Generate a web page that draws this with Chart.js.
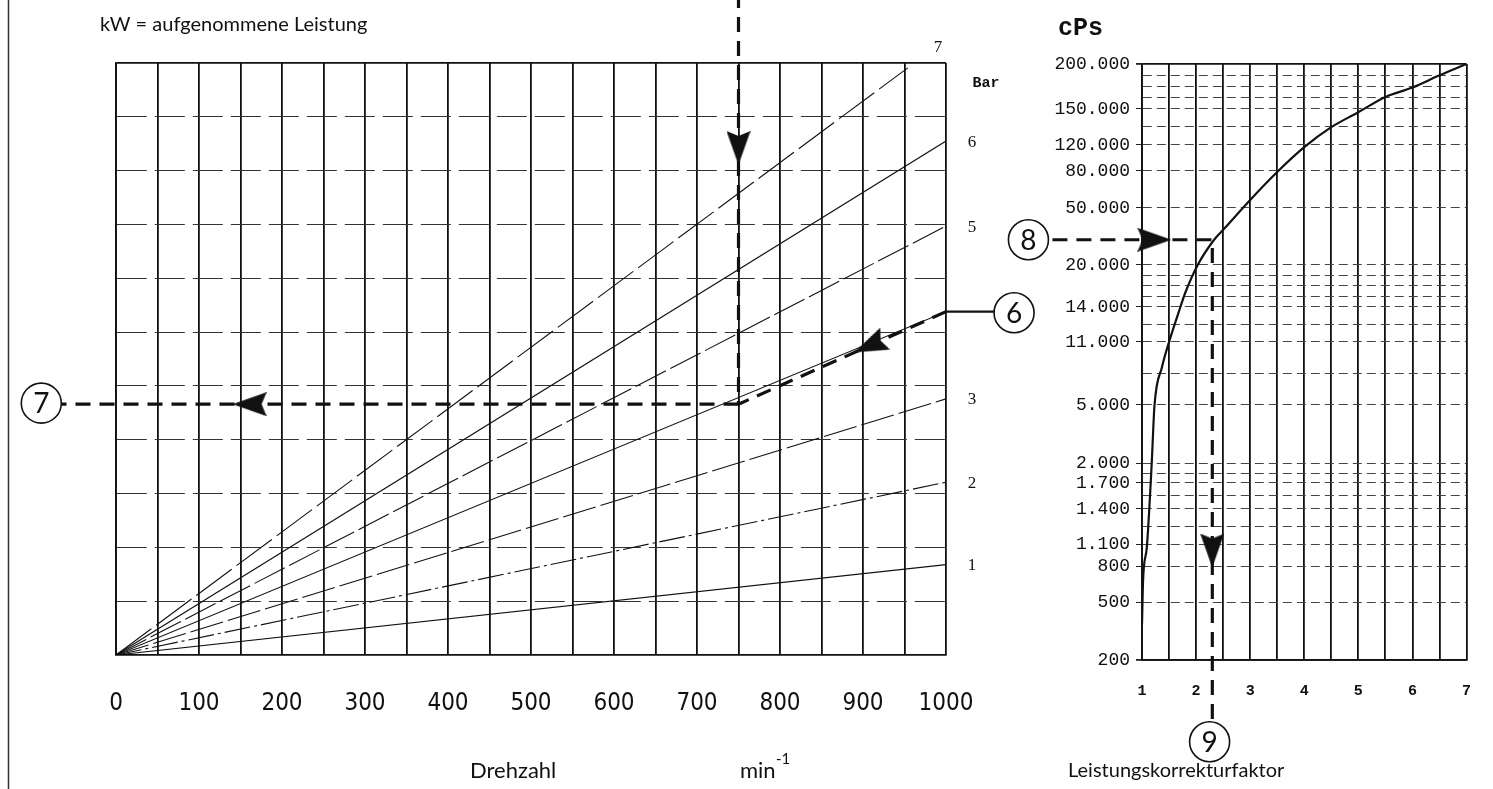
<!DOCTYPE html>
<html><head><meta charset="utf-8">
<script src="https://cdn.jsdelivr.net/npm/chart.js@4/dist/chart.umd.min.js"></script>
<style>
html,body{margin:0;padding:0;background:#fff;}
#wrap{position:relative;width:1493px;height:789px;overflow:hidden;background:#fff}
#c1{position:absolute;left:0;top:0;width:1060px;height:789px}
#c2{position:absolute;left:1000px;top:0;width:493px;height:789px}
</style></head><body>
<div id="wrap"><canvas id="c1" width="1060" height="789"></canvas><canvas id="c2" width="493" height="789"></canvas></div>
<script>
// ---------------- DATA: left nomogram (power vs. speed) ----------------
const rpmTicks = [0,100,200,300,400,500,600,700,800,900,1000];
const barNames = ['1','2','3','4','5','6','7'];
const barEndRpm = [1000,1000,1000,1000,1000,1000,954];
const barEndKw  = [1.68,3.21,4.76,6.38,7.97,9.55,10.91];
// reading path (steps 6 -> 7)
const pathDownRpm = [750, 750];
const pathDownKw  = [12.3, 4.66];
const pathLeftRpm = [750, -88];
const pathLeftKw  = [4.66, 4.66];
const pathSlopeRpm = [1000, 750];
const pathSlopeKw  = [6.38, 4.66];
const pathStubRpm = [1000, 1082];
const pathStubKw  = [6.38, 6.38];
const arrowsLeftRpm = [750, 161, 908];
const arrowsLeftKw  = [9.42, 4.66, 5.75];
const arrowsLeftRot = [180, 270, 246];
const circlesLeftRpm = [1082, -90];
const circlesLeftKw  = [6.36, 4.68];
const circlesLeftTxt = ['6', '7'];

// ---------------- DATA: right nomogram (viscosity vs. correction factor) ----------------
const factorTicks = [1,2,3,4,5,6,7];
const cpsTicks  = [200,500,800,1100,1400,1700,2000,5000,11000,14000,20000,50000,80000,120000,150000,200000];
const cpsLabels = ['200','500','800','1.100','1.400','1.700','2.000','5.000','11.000','14.000','20.000','50.000','80.000','120.000','150.000','200.000'];
const curveFactor = [1.0,1.02,1.09,1.18,1.23,1.37,1.5,1.71,1.80,2.03,2.33,2.53,3.0,3.5,4.0,4.5,5.0,5.5,6.0,6.5,7.0];
const curveCps    = [350,665,1055,2000,4900,8040,11000,14000,15800,20000,29900,36200,55400,79000,116000,134000,147000,162000,172000,186000,200000];
const pathRFactor = [-1.1, 2.3, 2.3];
const pathRCps    = [30000, 30000, 78];
const arrowsRFactor = [1.23, 2.3];
const arrowsRCps    = [30000, 1000];
const arrowsRRot    = [90, 180];
const circlesRFactor = [-1.1, 2.25];
const circlesRCps    = [30000, 55];
const circlesRTxt = ['8', '9'];

// printed (non-uniform) viscosity scale: relative axis position of each labelled value
const cpsTickFrac = [0,0.0973,0.1577,0.1946,0.2534,0.297,0.3305,0.4279,0.5336,0.5923,0.6628,0.7584,0.8205,0.8641,0.9245,1];
const cpsSubdiv   = [1,1,1,2,2,2,1,2,2,4,1,1,1,2,4];

// ---------------- helpers ----------------
const pts = (xs, ys) => xs.map((x, i) => ({x, y: ys[i]}));
function cpsToFrac(v) {
  const L = Math.log10(v);
  const n = cpsTicks.length;
  let i = 0;
  while (i < n - 2 && L > Math.log10(cpsTicks[i + 1])) i++;
  const a = Math.log10(cpsTicks[i]), b = Math.log10(cpsTicks[i + 1]);
  return cpsTickFrac[i] + (L - a) / (b - a) * (cpsTickFrac[i + 1] - cpsTickFrac[i]);
}
function fracToCps(f) {
  const n = cpsTicks.length;
  let i = 0;
  while (i < n - 2 && f > cpsTickFrac[i + 1]) i++;
  const a = Math.log10(cpsTicks[i]), b = Math.log10(cpsTicks[i + 1]);
  const t = (f - cpsTickFrac[i]) / (cpsTickFrac[i + 1] - cpsTickFrac[i]);
  return Math.pow(10, a + t * (b - a));
}

class NomoScale extends Chart.LinearScale {
  determineDataLimits() { this.min = cpsTicks[0]; this.max = cpsTicks[cpsTicks.length - 1]; }
  buildTicks() {
    const t = [];
    cpsTicks.forEach((v, i) => {
      t.push({value: v, lbl: cpsLabels[i], minor: false});
      if (i < cpsTicks.length - 1) {
        const n = cpsSubdiv[i];
        for (let k = 1; k < n; k++) {
          const f = cpsTickFrac[i] + k / n * (cpsTickFrac[i + 1] - cpsTickFrac[i]);
          t.push({value: fracToCps(f), lbl: '', minor: true});
        }
      }
    });
    t.sort((a, b) => a.value - b.value);
    return t;
  }
  getPixelForValue(v) { return (v === null || v === undefined) ? NaN : this.getPixelForDecimal(cpsToFrac(v)); }
  getValueForPixel(p) { return fracToCps(this.getDecimalForPixel(p)); }
}
NomoScale.id = 'nomo';
NomoScale.defaults = {};
Chart.register(NomoScale);

function makeArrow(w, h) {
  const c = document.createElement('canvas');
  c.width = w; c.height = h;
  const g = c.getContext('2d');
  g.fillStyle = '#111';
  g.beginPath();
  g.moveTo(w / 2, 0);
  g.lineTo(w, h);
  g.lineTo(w / 2, h - 5);
  g.lineTo(0, h);
  g.closePath();
  g.fill();
  return c;
}
const arrowImg = makeArrow(24, 34);

// circled step numbers, placed at the dataset points computed by the chart's scales
const circledPlugin = {
  id: 'circled',
  afterDatasetsDraw(chart) {
    const ctx = chart.ctx;
    chart.data.datasets.forEach((ds, di) => {
      if (!ds.circleText) return;
      const meta = chart.getDatasetMeta(di);
      meta.data.forEach((pt, i) => {
        ctx.save();
        ctx.beginPath();
        ctx.arc(pt.x, pt.y, 20, 0, Math.PI * 2);
        ctx.fillStyle = '#fff';
        ctx.fill();
        ctx.lineWidth = 1.6;
        ctx.strokeStyle = '#111';
        ctx.stroke();
        ctx.font = '28px Lato, "Open Sans", sans-serif';
        ctx.textAlign = 'center'; ctx.textBaseline = 'middle';
        ctx.fillStyle = '#111';
        ctx.fillText(ds.circleText[i], pt.x, pt.y + 1);
        ctx.restore();
      });
    });
  }
};

const leftText = {
  id: 'leftText',
  afterDraw(chart) {
    const ctx = chart.ctx, x = chart.scales.x, y = chart.scales.y, a = chart.chartArea;
    ctx.save();
    // frame line at left edge of the sheet
    ctx.strokeStyle = '#333'; ctx.lineWidth = 1.5;
    ctx.beginPath(); ctx.moveTo(8.5, 0); ctx.lineTo(8.5, 789); ctx.stroke();
    ctx.fillStyle = '#111';
    ctx.textBaseline = 'middle';
    ctx.font = '20px Lato, "Open Sans", sans-serif';
    ctx.textAlign = 'left';
    ctx.fillText('kW = aufgenommene Leistung', 100, 25);
    ctx.font = '22px Lato, "Open Sans", sans-serif';
    ctx.fillText('Drehzahl', 470, 771);
    ctx.fillText('min', 740, 771);
    ctx.font = '15px Lato, "Open Sans", sans-serif';
    ctx.fillText('-1', 776, 759);
    // bar labels
    ctx.font = '17px "Liberation Serif", serif';
    ctx.textAlign = 'center';
    barNames.forEach((n, i) => {
      if (n === '4' || n === '7') return;
      ctx.fillText(n, x.getPixelForValue(barEndRpm[i]) + 26, y.getPixelForValue(barEndKw[i]) + 1);
    });
    ctx.fillText('7', a.right - 8, a.top - 15);
    ctx.font = 'bold 15px "Liberation Mono", monospace';
    ctx.fillText('Bar', a.right + 40, a.top + 20);
    ctx.restore();
  }
};

const rightText = {
  id: 'rightText',
  afterDraw(chart) {
    const ctx = chart.ctx;
    ctx.save();
    ctx.fillStyle = '#111';
    ctx.textBaseline = 'middle';
    ctx.font = 'bold 25px "Liberation Mono", monospace';
    ctx.textAlign = 'left';
    ctx.fillText('cPs', 58, 29);
    ctx.font = '20px Lato, "Open Sans", sans-serif';
    ctx.fillText('Leistungskorrekturfaktor', 68, 771);
    ctx.restore();
  }
};

const dashPath = {borderColor: '#111', borderWidth: 3.2, borderDash: [15, 9], pointRadius: 0, fill: false, clip: false, tension: 0};

// ---------------- LEFT CHART ----------------
const leftDatasets = [
  {data: pts(circlesLeftRpm, circlesLeftKw), circleText: circlesLeftTxt, showLine: false, pointRadius: 0, clip: false},
  {data: pts(arrowsLeftRpm, arrowsLeftKw), showLine: false, pointStyle: arrowImg, pointRotation: arrowsLeftRot, pointRadius: 14, clip: false},
  Object.assign({data: pts(pathDownRpm, pathDownKw)}, dashPath),
  Object.assign({data: pts(pathLeftRpm, pathLeftKw)}, dashPath),
  Object.assign({data: pts(pathSlopeRpm, pathSlopeKw)}, dashPath),
  {data: pts(pathStubRpm, pathStubKw), borderColor: '#111', borderWidth: 2.2, pointRadius: 0, clip: false},
];
const barDash = [[], [26, 4, 3, 4], [34, 5], [], [34, 5], [], [44, 6]];
barNames.forEach((n, i) => {
  leftDatasets.push({data: [{x: 0, y: 0}, {x: barEndRpm[i], y: barEndKw[i]}], borderColor: '#111', borderWidth: 1.1,
    borderDash: barDash[i], pointRadius: 0, tension: 0});
});

new Chart(document.getElementById('c1'), {
  type: 'line',
  data: {datasets: leftDatasets},
  options: {
    responsive: false, animation: false, events: [],
    layout: {padding: {left: 116, right: 114, top: 63, bottom: 0}},
    plugins: {legend: {display: false}, tooltip: {enabled: false}, title: {display: false}},
    scales: {
      x: {type: 'linear', min: 0, max: 1000,
        afterFit: s => { s.height = 134; },
        ticks: {stepSize: 50, autoSkip: false, maxRotation: 0, padding: 34, color: '#111',
          font: {family: '"Liberation Sans Narrow", "DejaVu Sans Condensed", sans-serif', size: 24},
          callback: v => rpmTicks.includes(v) ? String(v) : ''},
        grid: {color: '#111', lineWidth: 1.8, drawTicks: false},
        border: {color: '#111', width: 1.8}},
      y: {type: 'linear', min: 0, max: 11,
        afterFit: s => { s.width = 0; },
        ticks: {stepSize: 1, display: false},
        grid: {color: c => (c.tick && c.tick.value === 11) ? '#111' : '#333', lineWidth: c => (c.tick && c.tick.value === 11) ? 1.8 : 1.1, drawTicks: false},
        border: {color: '#111', width: 1.8, dash: c => (c.tick && c.tick.value > 0 && c.tick.value < 11) ? [30, 8] : []}}
    }
  },
  plugins: [circledPlugin, leftText]
});

// ---------------- RIGHT CHART ----------------
new Chart(document.getElementById('c2'), {
  type: 'line',
  data: {datasets: [
    {data: pts(circlesRFactor, circlesRCps), circleText: circlesRTxt, showLine: false, pointRadius: 0, clip: false},
    {data: pts(arrowsRFactor, arrowsRCps), showLine: false, pointStyle: arrowImg, pointRotation: arrowsRRot, pointRadius: 14, clip: false},
    Object.assign({data: pts(pathRFactor, pathRCps)}, dashPath),
    {data: pts(curveFactor, curveCps), borderColor: '#111', borderWidth: 2.2, pointRadius: 0, cubicInterpolationMode: 'monotone'}
  ]},
  options: {
    responsive: false, animation: false, events: [],
    layout: {padding: {left: 0, right: 13, top: 64, bottom: 0}},
    plugins: {legend: {display: false}, tooltip: {enabled: false}, title: {display: false}},
    scales: {
      x: {type: 'linear', min: 1, max: 7,
        afterFit: s => { s.height = 129; },
        ticks: {stepSize: 0.5, autoSkip: false, maxRotation: 0, padding: 22, color: '#111',
          font: {family: '"Liberation Mono", monospace', size: 15, weight: 'bold'},
          callback: v => factorTicks.includes(v) ? String(v) : ''},
        grid: {color: '#111', lineWidth: 1.8, drawTicks: false},
        border: {color: '#111', width: 1.8}},
      y: {type: 'nomo', position: 'left',
        afterFit: s => { s.width = 142; },
        ticks: {autoSkip: false, padding: 6, color: '#111',
          font: {family: '"Liberation Mono", monospace', size: 18},
          callback: (v, i, t) => t[i].lbl},
        grid: {color: c => (c.tick && (c.tick.value === 200000 || c.tick.value === 200)) ? '#111' : '#444',
               lineWidth: c => (c.tick && (c.tick.value === 200000 || c.tick.value === 200)) ? 1.8 : 1,
               tickLength: 6, tickColor: c => (c.tick && c.tick.minor) ? 'rgba(0,0,0,0)' : '#222'},
        border: {color: '#111', width: 1.8, dash: c => (c.tick && c.tick.value > 200 && c.tick.value < 200000) ? [9, 5] : []}}
    }
  },
  plugins: [circledPlugin, rightText]
});
</script>
</body></html>
